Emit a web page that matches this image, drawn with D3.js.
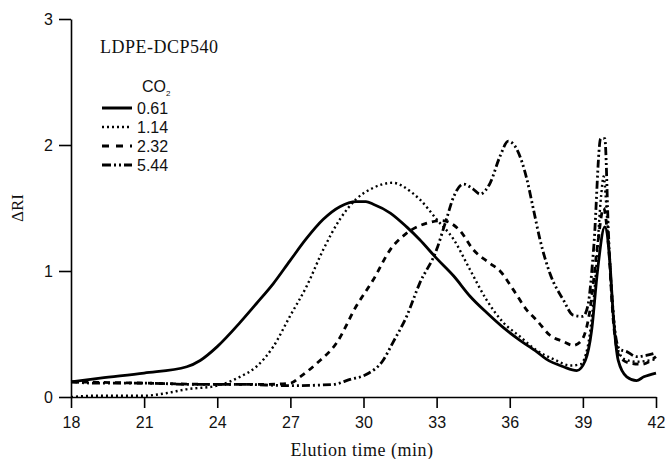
<!DOCTYPE html>
<html>
<head>
<meta charset="utf-8">
<script src="https://cdn.jsdelivr.net/npm/d3@7"></script>
<style>
  html, body { margin: 0; padding: 0; background: #fff; }
  svg { display: block; }
</style>
</head>
<body>
<svg id="chart" width="666" height="459"></svg>
<script>
// ---- data ----
const seriesLabels = ["0.61", "1.14", "2.32", "5.44"];
const xTicks = [18, 21, 24, 27, 30, 33, 36, 39, 42];
const yTicks = [0, 1, 2, 3];

const t061 = [18, 19.2, 21, 22.75, 23.3, 24, 24.93, 25.6, 26.3, 26.98, 27.67, 28.35, 29.03, 29.7, 30.1, 30.4, 31.1, 31.77, 32.3, 33.0, 33.7, 34.37, 35.05, 35.74, 36.42, 37.1, 37.5, 38.2, 38.75, 39.1, 39.36, 39.6, 39.9, 40.1, 40.25, 40.45, 40.8, 41.2, 41.5, 42];
const v061 = [0.12, 0.15, 0.19, 0.24, 0.29, 0.40, 0.59, 0.74, 0.90, 1.08, 1.26, 1.41, 1.51, 1.55, 1.55, 1.53, 1.46, 1.35, 1.25, 1.10, 0.96, 0.80, 0.67, 0.55, 0.45, 0.36, 0.30, 0.24, 0.21, 0.29, 0.53, 1.00, 1.35, 1.09, 0.64, 0.29, 0.16, 0.13, 0.16, 0.19];

const t114 = [18, 19, 21, 21.9, 22.7, 24, 24.93, 25.6, 26.3, 26.98, 27.67, 28.35, 29.03, 29.7, 30.4, 31.2, 32.0, 32.3, 33.0, 33.7, 34.37, 35.05, 35.74, 36.42, 37.1, 37.8, 38.5, 38.9, 39.2, 39.5, 39.75, 39.85, 40.0, 40.2, 40.4, 40.7, 41.2, 42];
const v114 = [0.0, 0.01, 0.01, 0.03, 0.06, 0.09, 0.16, 0.24, 0.40, 0.64, 0.88, 1.17, 1.41, 1.57, 1.66, 1.70, 1.62, 1.57, 1.41, 1.25, 1.01, 0.77, 0.59, 0.48, 0.37, 0.30, 0.25, 0.26, 0.40, 0.90, 1.60, 1.75, 1.40, 0.80, 0.40, 0.30, 0.28, 0.30];

const t232 = [18, 21, 24, 26, 27, 27.4, 28.1, 28.9, 29.7, 30.4, 31.1, 31.77, 32.6, 33.2, 33.96, 34.5, 35.2, 35.6, 36.15, 36.7, 37.1, 37.65, 38.2, 38.6, 38.95, 39.3, 39.6, 39.85, 40.05, 40.25, 40.5, 40.9, 41.4, 42];
const v232 = [0.12, 0.11, 0.10, 0.10, 0.11, 0.16, 0.27, 0.43, 0.72, 0.93, 1.17, 1.30, 1.38, 1.40, 1.32, 1.17, 1.06, 1.00, 0.85, 0.69, 0.61, 0.49, 0.44, 0.41, 0.45, 0.70, 1.20, 1.50, 1.20, 0.60, 0.32, 0.27, 0.26, 0.32];

const t544 = [18, 19, 21, 23, 25, 27, 28.76, 29.45, 30.13, 30.8, 31.2, 31.77, 32.3, 33.0, 33.4, 33.7, 34.1, 34.5, 34.78, 35.2, 35.6, 35.94, 36.28, 36.7, 36.96, 37.24, 37.65, 38.2, 38.6, 39.0, 39.2, 39.45, 39.73, 39.9, 40.05, 40.25, 40.5, 40.8, 41.2, 41.6, 42];
const v544 = [0.12, 0.11, 0.11, 0.10, 0.10, 0.09, 0.10, 0.14, 0.18, 0.29, 0.43, 0.64, 0.90, 1.17, 1.41, 1.59, 1.69, 1.65, 1.61, 1.70, 1.91, 2.03, 1.97, 1.73, 1.50, 1.25, 0.98, 0.77, 0.65, 0.64, 0.72, 1.20, 2.05, 2.05, 1.30, 0.64, 0.38, 0.36, 0.32, 0.33, 0.35];

const times = [t061, t114, t232, t544];
const values = [v061, v114, v232, v544];

// ---- styles ----
const dashes = [null, "2,3", "6,5", "8,3,2,3,2,3"];
const widths = [2.8, 2.4, 2.8, 2.8];
const legendDashes = [null, "2,3", "7,7", "9,3,2,3,2,3"];

const svg = d3.select("#chart");
const x = d3.scaleLinear().domain([18, 42]).range([71, 656]);
const y = d3.scaleLinear().domain([0, 3]).range([397, 19]);

// axes
const xAxis = d3.axisBottom(x).tickValues(xTicks).tickFormat(d3.format("d")).tickSize(11).tickSizeOuter(0).tickPadding(9);
const yAxis = d3.axisLeft(y).tickValues(yTicks).tickFormat(d3.format("d")).tickSize(12).tickSizeOuter(0).tickPadding(6);

const gx = svg.append("g").attr("transform", "translate(0,397)").call(xAxis);
const gy = svg.append("g").attr("transform", "translate(71,0)").call(yAxis);
[gx, gy].forEach(g => {
  g.selectAll("path, line").attr("stroke", "#000").attr("stroke-width", 1.6);
  g.selectAll("text").attr("fill", "#111").style("font-family", "'Liberation Sans', Arial, sans-serif").style("font-size", "16px");
});

// curves
const line = d3.line().x(d => x(d[0])).y(d => y(d[1])).curve(d3.curveMonotoneX);
seriesLabels.forEach((lab, i) => {
  const pts = times[i].map((t, j) => [t, values[i][j]]);
  svg.append("path")
    .datum(pts)
    .attr("d", line)
    .attr("fill", "none")
    .attr("stroke", "#000")
    .attr("stroke-width", widths[i])
    .attr("stroke-dasharray", dashes[i])
    .attr("stroke-linejoin", "round");
});

// axis titles
svg.append("text")
  .attr("x", 362).attr("y", 456)
  .attr("text-anchor", "middle")
  .style("font-family", "'Liberation Serif', 'Times New Roman', serif")
  .style("font-size", "18px").style("letter-spacing", "0.5px")
  .attr("fill", "#111")
  .text("Elution time (min)");

svg.append("text")
  .attr("transform", "translate(23,208) rotate(-90)")
  .attr("text-anchor", "middle")
  .style("font-family", "'Liberation Serif', 'Times New Roman', serif")
  .style("font-size", "17px")
  .attr("fill", "#111")
  .text("ΔRI");

// title
svg.append("text")
  .attr("x", 100).attr("y", 53)
  .style("font-family", "'Liberation Serif', 'Times New Roman', serif")
  .style("font-size", "18px").style("letter-spacing", "0.5px")
  .attr("fill", "#111")
  .text("LDPE-DCP540");

// legend
const co = svg.append("text")
  .attr("x", 142).attr("y", 92)
  .style("font-family", "'Liberation Sans', Arial, sans-serif")
  .style("font-size", "16px")
  .attr("fill", "#111");
co.append("tspan").text("CO");
co.append("tspan").attr("dy", 4).style("font-size", "8px").text("2");

const legendY = [108, 127, 146, 165];
seriesLabels.forEach((lab, i) => {
  svg.append("line")
    .attr("x1", 102).attr("x2", 132)
    .attr("y1", legendY[i]).attr("y2", legendY[i])
    .attr("stroke", "#000")
    .attr("stroke-width", i === 1 ? 2.4 : 3)
    .attr("stroke-dasharray", legendDashes[i]);
  svg.append("text")
    .attr("x", 137).attr("y", legendY[i] + 6)
    .style("font-family", "'Liberation Sans', Arial, sans-serif")
    .style("font-size", "16px")
    .attr("fill", "#111")
    .text(lab);
});
</script>
</body>
</html>
